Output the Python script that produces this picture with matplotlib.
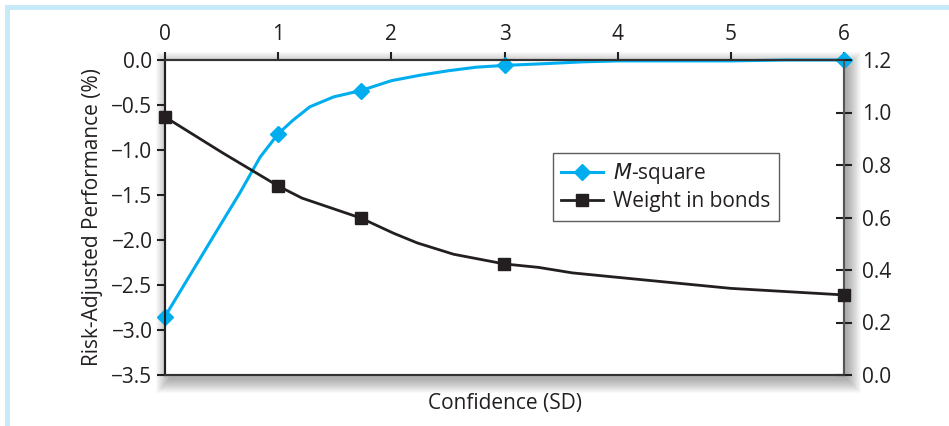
import matplotlib
matplotlib.use("Agg")
import matplotlib.pyplot as plt
from matplotlib.patches import Rectangle

plt.rcParams['font.family'] = ['Open Sans', 'DejaVu Sans']

# M-square (left axis)
x_msq = [0, 0.25, 0.5, 0.66, 0.84, 1.0, 1.13, 1.28, 1.49, 1.73, 2.0, 2.25, 2.5,
         2.75, 3.0, 3.37, 3.7, 4.0, 4.5, 5.0, 5.5, 6.0]
msq = [-2.85, -2.33, -1.81, -1.48, -1.08, -0.82, -0.67, -0.52, -0.41, -0.34, -0.23,
       -0.17, -0.12, -0.08, -0.06, -0.04, -0.02, -0.01, -0.01, -0.01, 0.0, 0.0]
msq_marks = [0, 5, 9, 14, 21]

# weight in bonds (right axis)
x_w = [0, 0.51, 1.0, 1.21, 1.73, 2.02, 2.23, 2.55, 3.0, 3.3, 3.6, 4.0, 5.0, 6.0]
w = [0.983, 0.846, 0.72, 0.674, 0.598, 0.54, 0.503, 0.46, 0.423, 0.41, 0.389,
     0.372, 0.33, 0.305]
w_marks = [0, 2, 4, 8, 13]

left_ticks = [0.0, -0.5, -1.0, -1.5, -2.0, -2.5, -3.0, -3.5]
right_ticks = [0.0, 0.2, 0.4, 0.6, 0.8, 1.0, 1.2]
x_ticks = [0, 1, 2, 3, 4, 5, 6]

FS = 15

W, H = 949, 426
fig = plt.figure(figsize=(W / 100, H / 100), dpi=100)

# light blue frame
fig.patches.append(Rectangle((7 / W, -20 / H), (W + 20) / W, (H + 20 - 7) / H,
                             transform=fig.transFigure, fill=False,
                             edgecolor='#c6e9f7', linewidth=3.5, zorder=-10))

x0, x1, y0, y1 = 165, 844, 60, 375
ax = fig.add_axes([x0 / W, 1 - y1 / H, (x1 - x0) / W, (y1 - y0) / H])

# soft shadow behind the plot box
for i in range(14):
    fig.patches.append(Rectangle(((x0 + 4 - i) / W, 1 - (y1 + 5 + i) / H),
                                 (x1 - x0 + 2 * i) / W, (y1 - y0 + 2 * i) / H,
                                 transform=fig.transFigure, facecolor='black',
                                 edgecolor='none', alpha=0.024, zorder=-5))

blue = '#00aeef'
dark = '#231f20'

l1, = ax.plot(x_msq, msq, color=blue, lw=2.2, marker='D', ms=8,
              markevery=msq_marks, label='$\\it{M}$-square', zorder=3,
              clip_on=False)
ax.set_xlim(0, 6)
ax.set_ylim(-3.5, 0)
ax.set_yticks(left_ticks)
ax.set_yticklabels(['0.0' if v == 0 else f'\u2212{abs(v):.1f}' for v in left_ticks])
ax.xaxis.tick_top()
ax.set_xticks(x_ticks)
ax.set_xticklabels([str(v) for v in x_ticks])
ax.xaxis.set_label_position('bottom')
ax.set_xlabel('Confidence (SD)', fontsize=FS, color=dark, labelpad=13)
ax.set_ylabel('Risk-Adjusted Performance (%)', fontsize=FS, color=dark, labelpad=6)
ax.tick_params(axis='y', direction='out', length=6, width=1.5, labelsize=FS,
               colors=dark, pad=3)
ax.tick_params(axis='x', direction='out', length=6, width=1.5, labelsize=FS,
               colors=dark, pad=5)

ax2 = ax.twinx()
l2, = ax2.plot(x_w, w, color=dark, lw=2.0, marker='s', ms=9,
               markevery=w_marks, label='Weight in bonds', zorder=3,
               clip_on=False)
ax2.set_ylim(0, 1.2)
ax2.set_yticks(right_ticks)
ax2.set_yticklabels([f'{v:.1f}' for v in right_ticks])
ax2.tick_params(axis='y', direction='inout', length=12, width=1.5, labelsize=FS,
                colors=dark, pad=7)

for a in (ax, ax2):
    a.spines['left'].set_color(dark)
    a.spines['left'].set_linewidth(1.5)
    a.spines['top'].set_color('#333333')
    a.spines['top'].set_linewidth(1.5)
    a.spines['bottom'].set_color('#333333')
    a.spines['bottom'].set_linewidth(1.5)
    a.spines['right'].set_color('#555555')
    a.spines['right'].set_linewidth(1.5)

leg = ax2.legend(handles=[l1, l2], loc='upper left', bbox_to_anchor=(0.571, 0.705),
                 fontsize=FS, frameon=True, fancybox=False, borderpad=0.4,
                 handlelength=2.0, handletextpad=0.5, labelspacing=0.25,
                 borderaxespad=0)
leg.get_frame().set_edgecolor('#333333')
leg.get_frame().set_linewidth(1.0)
for t in leg.get_texts():
    t.set_color(dark)

fig.savefig('out.png', dpi=100)
